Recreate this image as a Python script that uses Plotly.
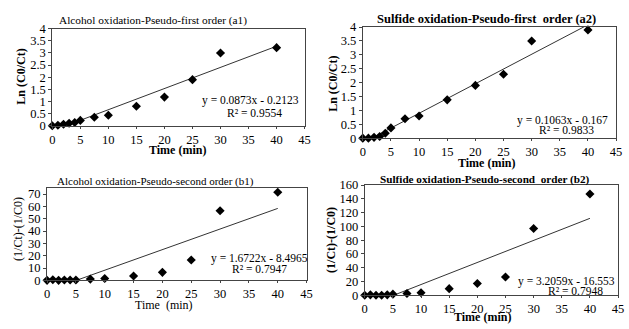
import plotly.graph_objects as go

# ---- data ----
time_min = [0, 1, 2, 3, 4, 5, 7.5, 10, 15, 20, 25, 30, 40]
alcohol_first = [0, 0.02, 0.06, 0.1, 0.13, 0.22, 0.35, 0.43, 0.8, 1.18, 1.9, 3.0, 3.22]
sulfide_first = [0, 0, 0.03, 0.06, 0.18, 0.37, 0.7, 0.8, 1.38, 1.9, 2.3, 3.5, 3.9]
alcohol_second = [0, 0.5, 0, 0.3, 0.3, 0.3, 1.0, 1.5, 3.5, 6.5, 16.5, 56.5, 71.5]
sulfide_second = [0, 0.5, 0, 0, 0.5, 1.5, 2.5, 3.5, 9.5, 17, 26.5, 97, 147]

# trendline coefficients (slope, intercept) and labels
fits = {
    "a1": (0.0873, -0.2123, "y = 0.0873x - 0.2123", "R² = 0.9554"),
    "a2": (0.1063, -0.167, "y = 0.1063x - 0.167", "R² = 0.9833"),
    "b1": (1.6722, -8.4965, "y = 1.6722x - 8.4965", "R² = 0.7947"),
    "b2": (3.2059, -16.553, "y = 3.2059x - 16.553", "R² = 0.7948"),
}
titles = {
    "a1": "Alcohol oxidation-Pseudo-first order (a1)",
    "a2": "<b>Sulfide oxidation-Pseudo-first  order (a2)</b>",
    "b1": "Alcohol oxidation-Pseudo-second order (b1)",
    "b2": "<b>Sulfide oxidation-Pseudo-second  order (b2)</b>",
}

W, H = 629, 329
FONT = "Liberation Serif, Times New Roman, serif"

def px_x(v):
    return v / W

def px_y(v):
    return 1 - v / H

# panel geometry in pixels: (left, right, bottom, top)
geo = {
    "a1": (50, 306, 124, 22.7),
    "a2": (365, 622, 137, 21),
    "b1": (44.7, 308, 285.5, 189),
    "b2": (367, 624, 301, 186),
}
yranges = {"a1": [0, 4], "a2": [0, 4], "b1": [0, 75], "b2": [0, 160]}
ydtick = {"a1": 0.5, "a2": 0.5, "b1": 10, "b2": 20}
series = {"a1": alcohol_first, "a2": sulfide_first, "b1": alcohol_second, "b2": sulfide_second}
bold = {"a1": True, "a2": True, "b1": False, "b2": True}
ytitle = {"a1": "Ln (C0/Ct)", "a2": "Ln (C0/Ct)", "b1": "(1/Ct)-(1/C0)", "b2": "(1/Ct)-(1/C0)"}
xtitle = {"a1": "Time (min)", "a2": "Time (min)", "b1": "Time  (min)", "b2": "Time (min)"}

fig = go.Figure()
layout = {}
annotations = []
keys = ["a1", "a2", "b1", "b2"]
for i, k in enumerate(keys):
    n = "" if i == 0 else str(i + 1)
    xa, ya = "x" + n, "y" + n
    l, r, b, t = geo[k]
    slope, inter, eq, r2 = fits[k]
    tx = [min(time_min), max(time_min)]
    ty = [slope * v + inter for v in tx]
    fig.add_trace(go.Scatter(x=tx, y=ty, mode="lines", line=dict(color="#333333", width=1),
                             xaxis=xa, yaxis=ya, showlegend=False, hoverinfo="skip"))
    fig.add_trace(go.Scatter(x=time_min, y=series[k], mode="markers",
                             marker=dict(symbol="diamond", size=7, color="black"),
                             xaxis=xa, yaxis=ya, showlegend=False, cliponaxis=False))
    ax_common = dict(showgrid=False, zeroline=False, showline=True, linecolor="#444444",
                     linewidth=1, mirror=True, ticks="outside", tickcolor="#444444",
                     tickfont=dict(family=FONT, size=12.5, color="black"))
    layout["xaxis" + n] = dict(ax_common, domain=[px_x(l), px_x(r)], range=[0, 45], dtick=5,
                               tick0=0, anchor=ya, fixedrange=True, ticklen=2)
    layout["yaxis" + n] = dict(ax_common, domain=[px_y(b), px_y(t)], range=yranges[k],
                               dtick=ydtick[k], tick0=0, anchor=xa, fixedrange=True, ticklen=3)
    wrap = (lambda s: "<b>" + s + "</b>") if bold[k] else (lambda s: s)
    # panel title
    title_pos = {"a1": (152, 14, 11.3), "a2": (491, 13, 12.5), "b1": (155, 182.5, 11), "b2": (489, 180.5, 11.2)}
    tx_, ty_, ts = title_pos[k]
    annotations.append(dict(text=titles[k], x=px_x(tx_), y=px_y(ty_), xref="paper", yref="paper",
                            showarrow=False, xanchor="center", yanchor="middle",
                            font=dict(family=FONT, size=ts, color="black")))
    # axis titles
    xt_pos = {"a1": (177, 149), "a2": (491, 162.5), "b1": (163, 311.5), "b2": (486, 324)}
    yt_pos = {"a1": (18, 73), "a2": (334, 80), "b1": (15, 232), "b2": (332, 243)}
    annotations.append(dict(text=wrap(xtitle[k]), x=px_x(xt_pos[k][0]), y=px_y(xt_pos[k][1]),
                            xref="paper", yref="paper", showarrow=False, xanchor="center",
                            yanchor="middle", font=dict(family=FONT, size=12, color="black")))
    annotations.append(dict(text=wrap(ytitle[k]), x=px_x(yt_pos[k][0]), y=px_y(yt_pos[k][1]),
                            xref="paper", yref="paper", showarrow=False, xanchor="center",
                            yanchor="middle", textangle=-90,
                            font=dict(family=FONT, size=12, color="black")))
    # equation labels
    eq_pos = {"a1": (302, 98, 255, 111), "a2": (616, 119, 572, 128.5),
              "b1": (311, 262.5, 260, 273.5), "b2": (623, 286.5, 581, 296.5)}
    ex, ey, rx, ry = eq_pos[k]
    annotations.append(dict(text=eq, x=px_x(ex), y=px_y(ey), xref="paper", yref="paper",
                            showarrow=False, xanchor="right", yanchor="middle",
                            font=dict(family=FONT, size=11.5, color="black")))
    annotations.append(dict(text=r2, x=px_x(rx), y=px_y(ry), xref="paper", yref="paper",
                            showarrow=False, xanchor="center", yanchor="middle",
                            font=dict(family=FONT, size=11.5, color="black")))

fig.update_layout(**layout)
fig.update_layout(width=W, height=H, margin=dict(l=0, r=0, t=0, b=0),
                  paper_bgcolor="white", plot_bgcolor="white", annotations=annotations,
                  font=dict(family=FONT, color="black"))
fig.write_html("out.html", config={"displayModeBar": False},
               post_script="document.body.style.margin='0';document.body.style.overflow='hidden';")
